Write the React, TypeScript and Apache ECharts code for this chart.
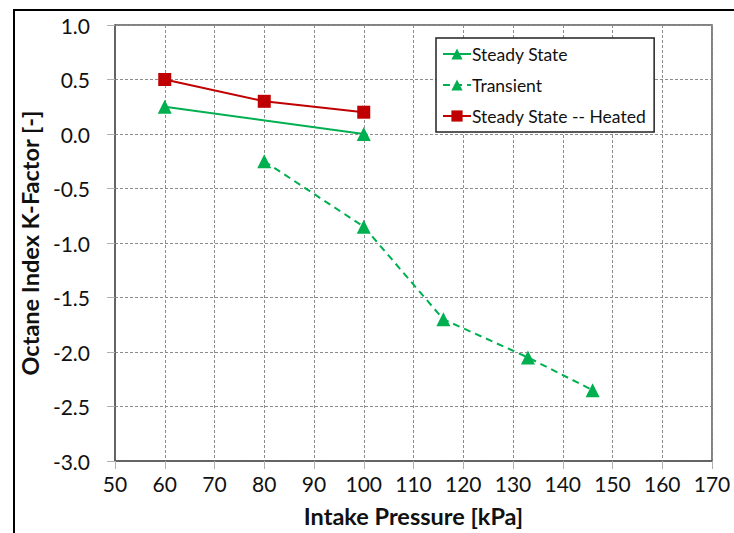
import React, { useEffect, useRef } from "react";
import * as echarts from "echarts";

const steadyX = [60, 100];
const steadyY = [0.25, 0.0];
const transientX = [80, 100, 116, 133, 146];
const transientY = [-0.25, -0.85, -1.7, -2.05, -2.35];
const heatedX = [60, 80, 100];
const heatedY = [0.5, 0.3, 0.2];

const FONT = "Lato, 'Open Sans', sans-serif";

function pairs(xs: number[], ys: number[]) {
  return xs.map((x, i) => [x, ys[i]]);
}

export default function App() {
  const ref = useRef<HTMLDivElement>(null);
  useEffect(() => {
    const chart = echarts.init(ref.current!, null, { renderer: "svg" });
    const green = "#00b050";
    const red = "#c00000";
    chart.setOption({
      animation: false,
      backgroundColor: "#fff",
      textStyle: { fontFamily: FONT },
      graphic: [
        {
          type: "polyline",
          shape: { points: [[14, 533], [14, 10], [734, 10]] },
          style: { stroke: "#000", lineWidth: 2, fill: "none" },
          z: 10,
        },
      ],
      grid: {
        left: 115,
        right: 22,
        top: 25,
        bottom: 69,
        show: true,
        borderColor: "#5a5a5a",
        borderWidth: 1.5,
      },
      legend: {
        orient: "vertical",
        left: 436,
        top: 38,
        padding: [7, 8, 7, 6],
        itemGap: 13,
        itemWidth: 28,
        itemHeight: 14,
        borderColor: "#222",
        borderWidth: 1.5,
        backgroundColor: "#fff",
        textStyle: { fontFamily: FONT, fontSize: 17.5, color: "#111", padding: [0, 0, 0, -4] },
        data: ["Steady State", "Transient", "Steady State -- Heated"],
      },
      xAxis: {
        type: "value",
        min: 50,
        max: 170,
        interval: 10,
        name: "Intake Pressure [kPa]",
        nameLocation: "middle",
        nameGap: 43,
        nameTextStyle: { fontFamily: FONT, fontSize: 23.5, fontWeight: "bold", color: "#111" },
        axisLine: { show: true, onZero: false, lineStyle: { color: "#5a5a5a", width: 1.5 } },
        axisTick: { show: true, inside: false, length: 8, lineStyle: { color: "#b0b0b0" } },
        axisLabel: { fontFamily: FONT, fontSize: 21, color: "#111", margin: 12 },
        splitLine: { show: true, lineStyle: { color: "#8c8c8c", type: [3, 2], width: 1 } },
      },
      yAxis: {
        type: "value",
        min: -3,
        max: 1,
        interval: 0.5,
        name: "Octane Index K-Factor [-]",
        nameLocation: "middle",
        nameGap: 68,
        nameTextStyle: { fontFamily: FONT, fontSize: 23.5, fontWeight: "bold", color: "#111" },
        axisLine: { show: true, onZero: false, lineStyle: { color: "#5a5a5a", width: 1.5 } },
        axisTick: { show: true, inside: false, length: 8, lineStyle: { color: "#b0b0b0" } },
        axisLabel: {
          fontFamily: FONT,
          fontSize: 21,
          color: "#111",
          margin: 25,
          formatter: (v: number) => v.toFixed(1),
        },
        splitLine: { show: true, lineStyle: { color: "#8c8c8c", type: [3, 2], width: 1 } },
      },
      series: [
        {
          name: "Steady State",
          type: "line",
          data: pairs(steadyX, steadyY),
          symbol: "triangle",
          symbolSize: 14,
          lineStyle: { color: green, width: 2 },
          itemStyle: { color: green },
          z: 3,
        },
        {
          name: "Transient",
          type: "line",
          data: pairs(transientX, transientY),
          symbol: "triangle",
          symbolSize: 14,
          lineStyle: { color: green, width: 2, type: [7, 5] },
          itemStyle: { color: green },
          z: 3,
        },
        {
          name: "Steady State -- Heated",
          type: "line",
          data: pairs(heatedX, heatedY),
          symbol: "rect",
          symbolSize: 13,
          lineStyle: { color: red, width: 2 },
          itemStyle: { color: red },
          z: 4,
        },
      ],
    });
    return () => chart.dispose();
  }, []);
  return (
    <div
      ref={ref}
      style={{ width: 734, height: 533, position: "absolute", left: 0, top: 0 }}
    />
  );
}
